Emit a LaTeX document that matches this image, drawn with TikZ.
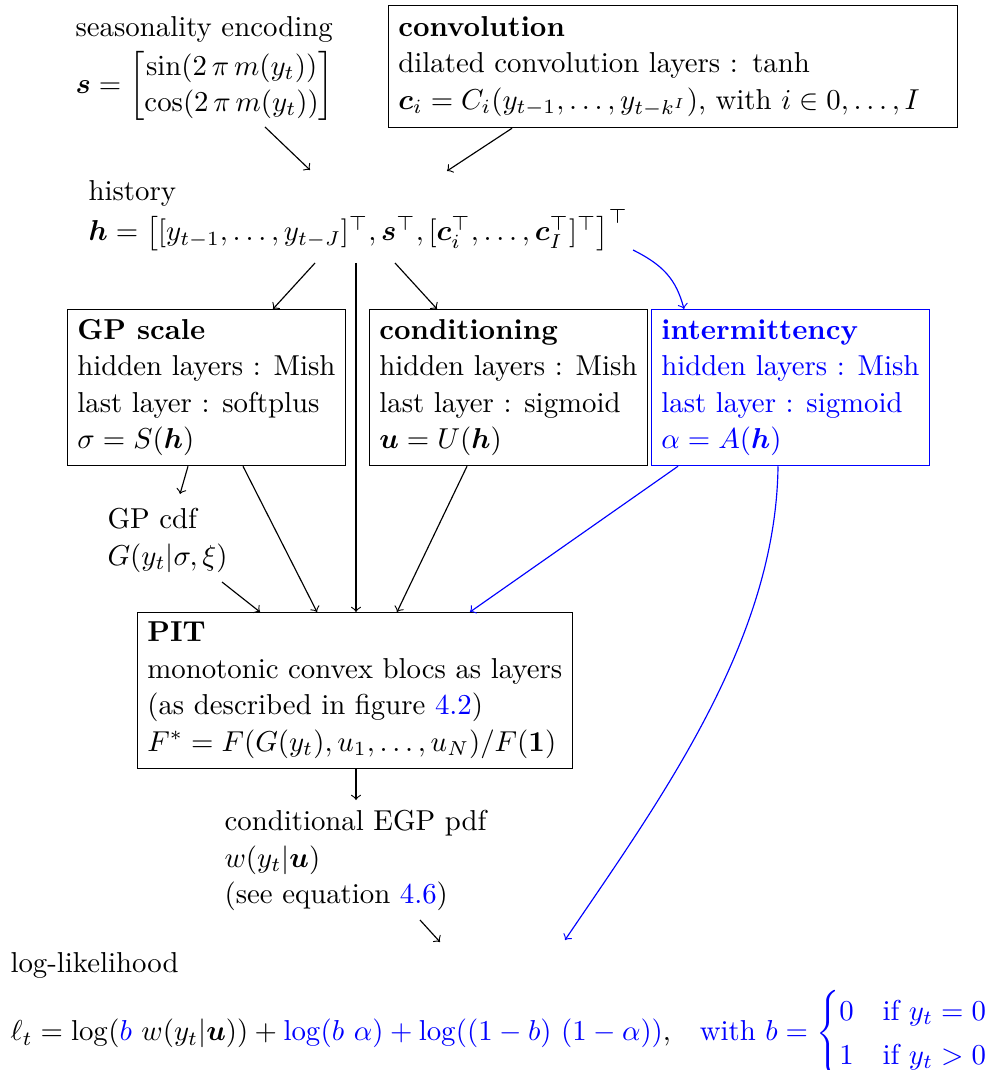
\documentclass[tikz,border=0pt]{standalone}
\usepackage{amsmath,amssymb}
\begin{document}
\begin{tikzpicture}[x=0.3472pt,y=-0.3472pt,
  every node/.style={font=\linespread{1.055}\selectfont},
  txt/.style={inner sep=0pt, anchor=north west, align=left},
  box/.style={draw, anchor=north west, align=left, inner xsep=3.4pt},
  conn/.style={->, line width=0.4pt},
  bconn/.style={conn, blue}]
\useasboundingbox (0,0) rectangle (995,1070);

\node[txt] (seas) at (75,16) {seasonality encoding\\[1.5pt]
  $\boldsymbol{s}=\begin{bmatrix}\sin(2\,\pi\,m(y_t))\\ \cos(2\,\pi\,m(y_t))\end{bmatrix}$};

\node[box, minimum height=42.4pt, text width=190.8pt] (conv) at (388,5) {\textbf{convolution}\\
  dilated convolution layers : tanh\\
  $\boldsymbol{c}_i = C_i(y_{t-1},\ldots,y_{t-k^I})$, with $i\in 0,\ldots,I$};

\node[txt] (hist) at (88,180) {history\\
  $\boldsymbol{h}=\bigl[[y_{t-1},\ldots,y_{t-J}]^\top,\boldsymbol{s}^\top,[\boldsymbol{c}_i^\top,\ldots,\boldsymbol{c}_I^\top]^\top\bigr]^\top$};

\node[box, minimum height=54.2pt] (gp) at (67,309) {\textbf{GP scale}\\
  hidden layers : Mish\\ last layer : softplus\\ $\sigma=S(\boldsymbol{h})$};
\node[box, minimum height=54.2pt] (cond) at (369,309) {\textbf{conditioning}\\
  hidden layers : Mish\\ last layer : sigmoid\\ $\boldsymbol{u}=U(\boldsymbol{h})$};
\node[box, blue, minimum height=54.2pt] (inter) at (651,309) {\textbf{intermittency}\\
  hidden layers : Mish\\ last layer : sigmoid\\ $\alpha=A(\boldsymbol{h})$};

\node[txt] (cdf) at (107,508) {GP cdf\\ $G(y_t|\sigma,\xi)$};

\node[box, minimum height=53.8pt] (pit) at (137,612) {\textbf{PIT}\\
  monotonic convex blocs as layers\\
  (as described in figure {\color{blue}4.2})\\
  $F^*=F(G(y_t),u_1,\ldots,u_N)/F(\mathbf{1})$};

\node[txt] (egp) at (224,810) {conditional EGP pdf\\ $w(y_t|\boldsymbol{u})$\\
  (see equation {\color{blue}4.6})};

\node[txt] (ll) at (10,952) {log-likelihood\\[3pt]
  $\ell_t=\log({\color{blue}b}\ w(y_t|\boldsymbol{u}))+{\color{blue}\log(b\ \alpha)+\log((1-b)\ (1-\alpha))}$,\quad
  {\color{blue}with $b=\begin{cases}0 & \text{if } y_t=0\\ 1 & \text{if } y_t>0\end{cases}$}};

\draw[conn] ([shift={(190,111)}]seas.north west) -- ([shift={(222,-10)}]hist.north west);
\draw[conn] ([shift={(124,0)}]conv.south west) -- ([shift={(359,-9)}]hist.north west);
\draw[conn] ([shift={(227,83)}]hist.north west) -- ([shift={(206,0)}]gp.north west);
\draw[conn] ([shift={(268,83)}]hist.north west) -- ([shift={(219,0)}]pit.north west);
\draw[conn] ([shift={(307,83)}]hist.north west) -- ([shift={(68,0)}]cond.north west);
\draw[bconn] ([shift={(545,70)}]hist.north west) .. controls +(30,15) and +(-8,-30) .. ([shift={(33,0)}]inter.north west);
\draw[conn] ([shift={(121,0)}]gp.south west) -- ([shift={(73,-14)}]cdf.north west);
\draw[conn] ([shift={(176,0)}]gp.south west) -- ([shift={(180,0)}]pit.north west);
\draw[conn] ([shift={(115,74)}]cdf.north west) -- ([shift={(123,0)}]pit.north west);
\draw[conn] ([shift={(98,0)}]cond.south west) -- ([shift={(260,0)}]pit.north west);
\draw[bconn] ([shift={(27,0)}]inter.south west) -- ([shift={(333,0)}]pit.north west);
\draw[bconn] ([shift={(127,0)}]inter.south west) .. controls +(-2,175) and +(95,-140) .. ([shift={(555,-12)}]ll.north west);
\draw[conn] ([shift={(219,0)}]pit.south west) -- ([shift={(132,-10)}]egp.north west);
\draw[conn] ([shift={(196,110)}]egp.north west) -- ([shift={(430,-10)}]ll.north west);
\end{tikzpicture}
\end{document}
